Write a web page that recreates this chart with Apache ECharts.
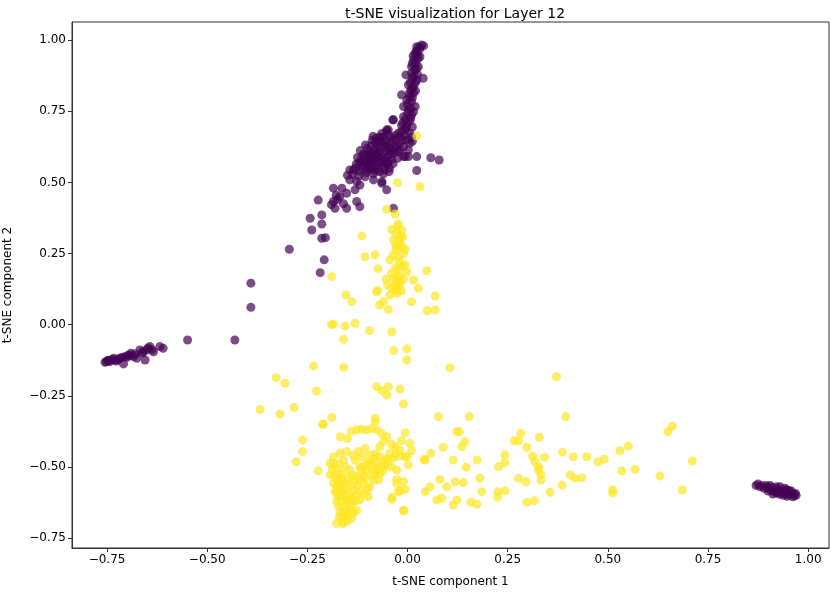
<!DOCTYPE html>
<html>
<head>
<meta charset="utf-8">
<script src="https://cdn.jsdelivr.net/npm/echarts@6/dist/echarts.min.js"></script>
<style>
  html, body { margin: 0; padding: 0; background: #fff; }
  #chart { width: 831px; height: 592px; }
</style>
</head>
<body>
<div id="chart"></div>
<script>
// tick positions
var xTicks = [-0.75, -0.5, -0.25, 0, 0.25, 0.5, 0.75, 1.0];
var yTicks = [-0.75, -0.5, -0.25, 0, 0.25, 0.5, 0.75, 1.0];

// label 0 (purple) points
var purplePoints = [
  // top stalk
  [0.035, 0.983], [0.023, 0.977], [0.030, 0.968], [0.019, 0.954], [0.025, 0.948],
  [0.015, 0.931], [0.031, 0.942], [0.020, 0.920], [0.010, 0.907], [0.027, 0.907],
  [0.018, 0.895], [0.010, 0.884], [0.025, 0.880], [0.023, 0.860], [0.012, 0.866],
  [-0.004, 0.878], [0.039, 0.866], [0.002, 0.843], [0.015, 0.837], [0.008, 0.825],
  [0.015, 0.814], [-0.015, 0.808], [0.005, 0.800], [-0.002, 0.790], [0.010, 0.785],
  [0.019, 0.767], [0.002, 0.755], [-0.010, 0.767], [0.010, 0.737], [-0.010, 0.731],
  [-0.037, 0.720], [-0.002, 0.702], [0.005, 0.715], [-0.006, 0.685], [-0.052, 0.685],
  [0.006, 0.673], [-0.019, 0.661], [-0.031, 0.649], [-0.002, 0.649], [-0.015, 0.700],
  [-0.023, 0.673], [-0.048, 0.685], [-0.035, 0.720], [-0.019, 0.638], [0.006, 0.638],
  [-0.023, 0.608], [-0.010, 0.591], [0.002, 0.591], [0.023, 0.591], [0.058, 0.587],
  [0.079, 0.579], [0.023, 0.542], [-0.006, 0.591], [-0.019, 0.614], [0.002, 0.614],
  [-0.025, 0.585], [-0.010, 0.625], [0.010, 0.660],
  [0.028, 0.975], [0.040, 0.980], [0.022, 0.962], [0.014, 0.945], [0.026, 0.935],
  [0.012, 0.918], [0.022, 0.900], [0.016, 0.875], [0.020, 0.852], [0.007, 0.852],
  [0.012, 0.830], [0.020, 0.822], [0.004, 0.812], [0.012, 0.798], [0.000, 0.775],
  [0.008, 0.760], [0.015, 0.748], [0.000, 0.742], [-0.005, 0.722], [0.008, 0.725],
  [-0.012, 0.710], [-0.003, 0.692], [0.012, 0.695], [-0.015, 0.680], [-0.008, 0.665],
  [-0.030, 0.665], [-0.012, 0.650], [-0.040, 0.655], [0.012, 0.645], [-0.028, 0.632],
  // main blob
  [-0.11, 0.60], [-0.10, 0.62], [-0.09, 0.63], [-0.08, 0.64], [-0.07, 0.645],
  [-0.06, 0.64], [-0.05, 0.63], [-0.10, 0.58], [-0.09, 0.59], [-0.08, 0.60],
  [-0.07, 0.61], [-0.06, 0.60], [-0.05, 0.59], [-0.12, 0.57], [-0.11, 0.56],
  [-0.10, 0.55], [-0.09, 0.57], [-0.08, 0.56], [-0.07, 0.57], [-0.06, 0.56],
  [-0.05, 0.57], [-0.04, 0.58], [-0.04, 0.61], [-0.13, 0.55], [-0.12, 0.54],
  [-0.08, 0.54], [-0.06, 0.53], [-0.095, 0.61], [-0.075, 0.625], [-0.065, 0.585],
  [-0.085, 0.575], [-0.105, 0.57], [-0.115, 0.585], [-0.045, 0.55], [-0.052, 0.679],
  [-0.04, 0.64], [-0.03, 0.62], [-0.07, 0.66], [-0.09, 0.55],
  [-0.118, 0.612], [-0.105, 0.632], [-0.088, 0.648], [-0.078, 0.655], [-0.062, 0.658],
  [-0.055, 0.648], [-0.098, 0.598], [-0.083, 0.615], [-0.068, 0.628], [-0.052, 0.612],
  [-0.042, 0.598], [-0.058, 0.578], [-0.075, 0.592], [-0.092, 0.582], [-0.108, 0.595],
  [-0.125, 0.588], [-0.116, 0.572], [-0.098, 0.565], [-0.082, 0.585], [-0.066, 0.570],
  [-0.050, 0.565], [-0.036, 0.566], [-0.128, 0.565], [-0.112, 0.548], [-0.095, 0.545],
  [-0.075, 0.550], [-0.058, 0.545], [-0.046, 0.538], [-0.135, 0.545], [-0.102, 0.535],
  [-0.085, 0.530], [-0.070, 0.538], [-0.056, 0.625], [-0.044, 0.622], [-0.034, 0.604],
  [-0.086, 0.662], [-0.064, 0.672], [-0.046, 0.665], [-0.072, 0.603], [-0.088, 0.600],
  // lower left tail
  [-0.064, 0.503], [-0.052, 0.474], [-0.085, 0.509], [-0.106, 0.520], [-0.119, 0.491],
  [-0.144, 0.509], [-0.144, 0.544], [-0.127, 0.503], [-0.164, 0.480], [-0.185, 0.480],
  [-0.169, 0.450], [-0.185, 0.433], [-0.181, 0.409], [-0.152, 0.409], [-0.127, 0.433],
  [-0.119, 0.415], [-0.131, 0.474], [-0.152, 0.462], [-0.223, 0.438], [-0.243, 0.374],
  [-0.239, 0.333], [-0.214, 0.386], [-0.214, 0.354], [-0.214, 0.304], [-0.205, 0.306],
  [-0.295, 0.265], [-0.208, 0.228], [-0.218, 0.183], [-0.391, 0.146], [-0.391, 0.061],
  [-0.064, 0.497], [-0.035, 0.409], [-0.175, 0.440], [-0.160, 0.425],
  [-0.138, 0.528], [-0.122, 0.522], [-0.150, 0.525], [-0.178, 0.455], [-0.190, 0.422],
  [-0.549, -0.054], [-0.431, -0.054],
  // left cluster
  [-0.752, -0.130], [-0.743, -0.130], [-0.730, -0.124], [-0.718, -0.118], [-0.709, -0.138],
  [-0.697, -0.107], [-0.684, -0.112], [-0.676, -0.118], [-0.668, -0.089], [-0.655, -0.124],
  [-0.651, -0.089], [-0.643, -0.077], [-0.634, -0.095], [-0.618, -0.077], [-0.610, -0.083],
  [-0.733, -0.118], [-0.722, -0.122], [-0.705, -0.112], [-0.748, -0.125], [-0.738, -0.122],
  [-0.660, -0.095], [-0.690, -0.100],
  [-0.755, -0.132], [-0.745, -0.126], [-0.727, -0.128], [-0.713, -0.115], [-0.700, -0.115],
  [-0.692, -0.108], [-0.680, -0.103], [-0.662, -0.100], [-0.648, -0.082], [-0.638, -0.088],
  // right cluster
  [0.870, -0.565], [0.880, -0.570], [0.890, -0.575], [0.895, -0.565], [0.905, -0.580],
  [0.910, -0.572], [0.915, -0.585], [0.920, -0.578], [0.925, -0.590], [0.930, -0.583],
  [0.935, -0.592], [0.940, -0.587], [0.945, -0.595], [0.950, -0.590], [0.955, -0.598],
  [0.960, -0.593], [0.965, -0.600], [0.968, -0.593], [0.912, -0.595], [0.930, -0.570],
  [0.905, -0.565], [0.958, -0.585], [0.945, -0.580],
  [0.875, -0.560], [0.885, -0.566], [0.898, -0.572], [0.918, -0.590], [0.928, -0.596],
  [0.938, -0.600], [0.948, -0.603], [0.962, -0.605], [0.970, -0.600], [0.952, -0.583],
  [0.942, -0.575], [0.922, -0.570], [0.900, -0.585]
];

// label 1 (yellow) points
var yellowPoints = [
  // upper column
  [0.023, 0.663], [-0.025, 0.499], [0.031, 0.485], [-0.052, 0.406], [-0.031, 0.389],
  [-0.023, 0.354], [-0.039, 0.335], [-0.015, 0.333], [-0.012, 0.309], [-0.035, 0.298],
  [-0.027, 0.274], [-0.006, 0.265], [-0.019, 0.288], [-0.114, 0.312], [-0.106, 0.239],
  [-0.081, 0.245], [-0.044, 0.228], [-0.023, 0.236], [-0.074, 0.197], [-0.006, 0.210],
  [-0.002, 0.186], [0.048, 0.190], [-0.189, 0.169], [-0.054, 0.160], [-0.027, 0.169],
  [-0.019, 0.151], [-0.031, 0.134], [0.015, 0.157], [0.027, 0.128], [-0.074, 0.120],
  [-0.044, 0.104], [-0.027, 0.110], [0.010, 0.081], [0.069, 0.101], [0.069, 0.052],
  [-0.154, 0.104], [-0.139, 0.081], [-0.070, 0.069], [-0.060, 0.081], [-0.048, 0.054],
  [-0.030, 0.320], [-0.020, 0.300], [-0.030, 0.280], [-0.010, 0.250], [-0.020, 0.220],
  [-0.030, 0.200], [-0.040, 0.180], [-0.020, 0.170], [-0.030, 0.150], [-0.040, 0.130],
  [-0.020, 0.140], [-0.010, 0.160], [-0.050, 0.140], [-0.030, 0.120], [-0.077, 0.116],
  [-0.025, 0.345], [-0.018, 0.315], [-0.028, 0.262], [-0.014, 0.275], [-0.036, 0.245],
  [-0.024, 0.195], [-0.012, 0.205], [-0.035, 0.165], [-0.025, 0.125], [-0.015, 0.118],
  // middle scatter
  [-0.185, 0.002], [-0.156, -0.005], [-0.131, 0.005], [-0.160, -0.051], [-0.095, -0.021],
  [-0.039, -0.025], [-0.035, -0.091], [-0.002, -0.085], [-0.002, -0.124], [-0.235, -0.145],
  [-0.159, -0.150], [0.106, -0.151], [-0.306, -0.206], [-0.227, -0.233], [-0.077, -0.218],
  [-0.064, -0.232], [-0.048, -0.218], [-0.052, -0.247], [-0.019, -0.226], [-0.010, -0.279],
  [-0.283, -0.291], [-0.189, -0.326], [-0.081, -0.329], [-0.212, -0.350], [0.077, -0.323],
  [-0.318, -0.314], [-0.368, -0.298], [-0.328, -0.186], [-0.190, 0.000],
  // bottom left cluster
  [-0.262, -0.405], [-0.262, -0.446], [-0.278, -0.482], [-0.223, -0.514], [-0.177, -0.698],
  [-0.193, -0.487], [-0.019, -0.441], [-0.168, -0.394], [-0.127, -0.370], [-0.102, -0.370],
  [-0.077, -0.370], [-0.052, -0.394], [-0.006, -0.380], [-0.081, -0.341], [-0.210, -0.349],
  [0.006, -0.417], [0.010, -0.443], [-0.031, -0.429], [-0.168, -0.452], [-0.152, -0.446],
  [-0.123, -0.446], [-0.106, -0.435], [-0.069, -0.429], [-0.114, -0.464], [-0.094, -0.458],
  [-0.044, -0.452], [-0.006, -0.464], [0.002, -0.493], [-0.027, -0.511], [-0.027, -0.544],
  [-0.006, -0.579], [-0.023, -0.587], [-0.039, -0.614], [-0.010, -0.652], [-0.185, -0.487],
  [-0.193, -0.528], [-0.173, -0.546], [-0.181, -0.587], [-0.177, -0.622], [-0.168, -0.663],
  [-0.160, -0.693], [-0.139, -0.681], [-0.127, -0.652], [-0.119, -0.616], [-0.098, -0.605],
  [-0.135, -0.581], [-0.152, -0.558], [-0.127, -0.534], [-0.102, -0.511], [-0.077, -0.487],
  [-0.052, -0.470], [-0.085, -0.546], [-0.069, -0.523], [-0.060, -0.499], [-0.094, -0.570],
  [-0.152, -0.616], [-0.144, -0.652], [-0.156, -0.581], [-0.164, -0.523], [-0.144, -0.511],
  [-0.119, -0.499], [-0.094, -0.482], [-0.069, -0.464], [-0.110, -0.558], [-0.127, -0.599],
  [-0.168, -0.570], [-0.152, -0.663], [-0.160, -0.640], [-0.185, -0.558], [-0.131, -0.476],
  [-0.160, -0.476], [-0.185, -0.464], [-0.170, -0.600], [-0.165, -0.680], [-0.150, -0.690],
  [-0.140, -0.630], [-0.110, -0.530], [-0.080, -0.510], [-0.060, -0.480], [-0.040, -0.500],
  [-0.027, -0.558], [-0.039, -0.607], [-0.019, -0.584], [-0.009, -0.654], [-0.002, -0.464],
  [-0.015, -0.408], [-0.010, -0.552],
  [-0.178, -0.505], [-0.172, -0.525], [-0.165, -0.540], [-0.175, -0.565], [-0.162, -0.555],
  [-0.158, -0.598], [-0.174, -0.605], [-0.163, -0.620], [-0.172, -0.640], [-0.157, -0.655],
  [-0.170, -0.675], [-0.158, -0.672], [-0.148, -0.672], [-0.162, -0.700], [-0.145, -0.640],
  [-0.138, -0.610], [-0.146, -0.595], [-0.140, -0.565], [-0.148, -0.540], [-0.138, -0.528],
  [-0.132, -0.548], [-0.125, -0.565], [-0.118, -0.585], [-0.130, -0.620], [-0.134, -0.660],
  [-0.120, -0.545], [-0.115, -0.515], [-0.105, -0.540], [-0.100, -0.575], [-0.108, -0.595],
  [-0.090, -0.525], [-0.092, -0.495], [-0.082, -0.530], [-0.075, -0.500], [-0.072, -0.545],
  [-0.062, -0.515], [-0.055, -0.490], [-0.048, -0.478], [-0.035, -0.468], [-0.030, -0.455],
  [-0.085, -0.470], [-0.102, -0.488], [-0.155, -0.500], [-0.170, -0.490], [-0.188, -0.510],
  [-0.182, -0.535], [-0.150, -0.615], [-0.162, -0.585], [-0.176, -0.585], [-0.112, -0.500],
  [-0.150, -0.400], [-0.140, -0.375], [-0.115, -0.368], [-0.090, -0.365], [-0.065, -0.382],
  [-0.060, -0.410], [-0.040, -0.420], [-0.020, -0.462], [-0.080, -0.455], [-0.135, -0.460],
  // bottom right scatter
  [0.044, -0.476], [0.058, -0.452], [0.089, -0.431], [0.114, -0.476], [0.081, -0.544],
  [0.098, -0.570], [0.119, -0.552], [0.044, -0.587], [0.056, -0.570], [0.073, -0.616],
  [0.085, -0.610], [0.114, -0.634], [0.123, -0.376], [0.372, -0.183], [0.154, -0.323],
  [0.395, -0.323], [0.129, -0.376], [0.143, -0.411], [0.135, -0.429], [0.041, -0.473],
  [0.146, -0.501], [0.174, -0.476], [0.139, -0.555], [0.181, -0.540], [0.185, -0.587],
  [0.123, -0.616], [0.158, -0.624], [0.173, -0.631], [0.225, -0.607], [0.225, -0.587],
  [0.243, -0.584], [0.277, -0.540], [0.296, -0.552], [0.298, -0.624], [0.317, -0.619],
  [0.333, -0.546], [0.333, -0.528], [0.356, -0.589], [0.386, -0.564], [0.406, -0.528],
  [0.418, -0.540], [0.435, -0.538], [0.227, -0.499], [0.243, -0.485], [0.243, -0.458],
  [0.266, -0.408], [0.277, -0.408], [0.283, -0.382], [0.298, -0.431], [0.312, -0.462],
  [0.318, -0.482], [0.327, -0.499], [0.327, -0.511], [0.329, -0.396], [0.342, -0.466],
  [0.387, -0.448], [0.414, -0.464], [0.447, -0.464], [0.476, -0.482], [0.491, -0.473],
  [0.512, -0.581], [0.512, -0.591], [0.535, -0.514], [0.568, -0.508], [0.530, -0.443],
  [0.551, -0.427], [0.630, -0.532], [0.650, -0.376], [0.661, -0.356], [0.686, -0.581],
  [0.711, -0.479], [0.049, 0.049]
];

function fmt(v) {
  return (v < 0 ? '\u2212' : '') + Math.abs(v).toFixed(2);
}

var chart = echarts.init(document.getElementById('chart'));
var option = {
  animation: false,
  textStyle: { fontFamily: 'DejaVu Sans' },
  title: {
    text: 't-SNE visualization for Layer 12',
    left: 450,
    top: 2,
    textAlign: 'center',
    textStyle: { fontFamily: 'DejaVu Sans', fontSize: 14, fontWeight: 'normal', color: '#000' }
  },
  grid: {
    left: 72, right: 2, top: 22, bottom: 44,
    outerBoundsMode: 'none',
    containLabel: false,
    show: true, borderColor: '#333', borderWidth: 1
  },
  xAxis: {
    type: 'value',
    min: -0.8375, max: 1.052,
    name: 't-SNE component 1',
    nameLocation: 'middle',
    nameGap: 28,
    nameTextStyle: { fontSize: 12, color: '#000' },
    splitLine: { show: false },
    axisLine: { show: true, onZero: false, lineStyle: { color: '#333' } },
    axisTick: { show: true, length: 4, customValues: xTicks, lineStyle: { color: '#333' } },
    axisLabel: { customValues: xTicks, formatter: fmt, fontSize: 12, color: '#000', margin: 6 }
  },
  yAxis: {
    type: 'value',
    min: -0.785, max: 1.064,
    name: 't-SNE component 2',
    nameLocation: 'middle',
    nameGap: 58,
    nameTextStyle: { fontSize: 12, color: '#000' },
    splitLine: { show: false },
    axisLine: { show: true, onZero: false, lineStyle: { color: '#333' } },
    axisTick: { show: true, length: 4, customValues: yTicks, lineStyle: { color: '#333' } },
    axisLabel: { customValues: yTicks, formatter: fmt, fontSize: 12, color: '#000', margin: 6 }
  },
  series: [
    {
      type: 'scatter',
      data: purplePoints,
      symbolSize: 9,
      itemStyle: { color: '#440154', opacity: 0.7 }
    },
    {
      type: 'scatter',
      data: yellowPoints,
      symbolSize: 9,
      itemStyle: { color: '#fde725', opacity: 0.7 }
    }
  ]
};
chart.setOption(option);
</script>
</body>
</html>
